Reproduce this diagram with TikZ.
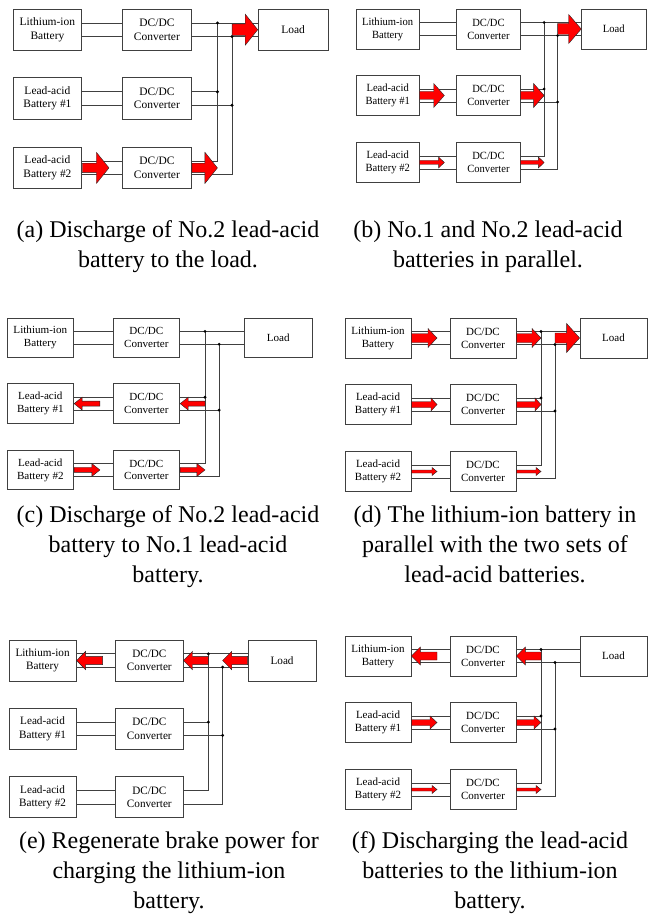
\documentclass[tikz,border=0pt]{standalone}
\usepackage{fontspec}
\setmainfont{Liberation Serif}
\usetikzlibrary{calc}

\newcommand{\drawpanel}[1]{%
  \node[unit] (#1bat1) at (33,-20)    {Lithium-ion\\Battery};
  \node[unit] (#1bat2) at (33,-86.5)  {Lead-acid\\Battery \#1};
  \node[unit] (#1bat3) at (33,-153.5) {Lead-acid\\Battery \#2};
  \node[unit, minimum width=67pt] (#1load) at (268.5,-20) {Load};
  \foreach \row/\yy in {1/-20,2/-86.5,3/-153.5}{
    \node[unit] (#1con\row) at (138,\yy) {DC/DC\\Converter};
    \coordinate (#1gap\row) at (92,\yy);
    \coordinate (#1bx\row)  at (196,\yy);
    \coordinate (#1hi\row)  at (196,\yy+6.5);
    \coordinate (#1lo\row)  at (210,\yy-6.5);
    \draw[wire] (#1bat\row.east |- #1hi\row) -- (#1con\row.west |- #1hi\row);
    \draw[wire] (#1bat\row.east |- #1lo\row) -- (#1con\row.west |- #1lo\row);
  }
  \coordinate (#1by1) at (210,-20);
  \draw[wire] (#1con1.east |- #1hi1) -- (#1load.west |- #1hi1);
  \draw[wire] (#1con1.east |- #1lo1) -- (#1load.west |- #1lo1);
  \draw[wire] (#1con2.east |- #1hi2) -- (#1hi2);
  \draw[wire] (#1con2.east |- #1lo2) -- (#1lo2);
  \draw[wire] (#1con3.east |- #1hi3) -- (#1hi3) -- (#1hi1);
  \draw[wire] (#1con3.east |- #1lo3) -- (#1lo3) -- (#1lo1);
  \foreach \dt in {hi1,lo1,hi2,lo2}
    \fill (#1\dt) circle (1.6pt);
}

% tail, tip, tail half width, head half width, head length (signed)
\newcommand{\flowarrow}[5]{%
  \draw[flow] ($(#1)+(0,#3)-(0,0)$) -- ($(#2)+(#5,#3)-(0,0)$) -- ($(#2)+(#5,#4)-(0,0)$) -- (#2)
    -- ($(#2)+(#5,-#4)-(0,0)$) -- ($(#2)+(#5,-#3)-(0,0)$) -- ($(#1)+(0,-#3)-(0,0)$) -- cycle;
}

\begin{document}
\begin{tikzpicture}[x=1pt, y=1pt,
  unit/.style={draw=black!75, line width=0.8pt, minimum width=66pt, minimum height=40pt,
    align=center, inner sep=1pt, font=\fontsize{11}{13}\selectfont},
  wire/.style={draw=black!75, line width=0.8pt},
  flow/.style={fill=red, draw=black!85, line width=0.4pt},
  caption/.style={align=center, anchor=base, font=\fontsize{24}{30}\selectfont}]
  \useasboundingbox (0,0) rectangle (648,-920);

  \begin{scope}[shift={(13,-9)}, xscale=1.043, yscale=1.035, transform shape]
    \drawpanel{a}
    \flowarrow{abat3.east}{agap3}{4.5}{15}{-12}
    \flowarrow{acon3.east}{abx3}{4.5}{15}{-12}
    \flowarrow{aby1}{aload.west}{5.5}{15}{-12}
  \end{scope}

  \begin{scope}[shift={(356,-9)}, xscale=0.96, transform shape]
    \drawpanel{b}
    \flowarrow{bbat2.east}{bgap2}{4}{12}{-11}
    \flowarrow{bcon2.east}{bbx2}{4}{12}{-11}
    \flowarrow{bbat3.east}{bgap3}{2}{5.5}{-6}
    \flowarrow{bcon3.east}{bbx3}{2}{5.5}{-6}
    \flowarrow{bby1}{bload.west}{5.5}{14.5}{-13}
  \end{scope}

  \begin{scope}[shift={(7,-318)}, xscale=1.01, yscale=0.99, transform shape]
    \drawpanel{c}
    \flowarrow{cgap2}{cbat2.east}{2.5}{6.5}{8}
    \flowarrow{cbx2}{ccon2.east}{2.5}{6.5}{8}
    \flowarrow{cbat3.east}{cgap3}{2.5}{6.5}{-8}
    \flowarrow{ccon3.east}{cbx3}{2.5}{6.5}{-8}
  \end{scope}

  \begin{scope}[shift={(345,-318)}]
    \drawpanel{d}
    \flowarrow{dbat1.east}{dgap1}{4.5}{9.5}{-9}
    \flowarrow{dcon1.east}{dbx1}{4.5}{9.5}{-9}
    \flowarrow{dby1}{dload.west}{5}{14.5}{-13}
    \flowarrow{dbat2.east}{dgap2}{3}{6.5}{-6}
    \flowarrow{dcon2.east}{dbx2}{3}{6.5}{-6}
    \flowarrow{dbat3.east}{dgap3}{1.5}{4}{-5}
    \flowarrow{dcon3.east}{dbx3}{1.5}{4}{-5}
  \end{scope}

  \begin{scope}[shift={(9,-640)}, xscale=1.017, yscale=1.025, transform shape]
    \drawpanel{e}
    \flowarrow{egap1}{ebat1.east}{4}{9}{9}
    \flowarrow{ebx1}{econ1.east}{4}{9}{9}
    \flowarrow{eload.west}{eby1}{4}{9}{9}
  \end{scope}

  \begin{scope}[shift={(345,-636)}]
    \drawpanel{f}
    \flowarrow{fgap1}{fbat1.east}{4}{9}{9}
    \flowarrow{fbx1}{fcon1.east}{4}{9}{9}
    \flowarrow{fbat2.east}{fgap2}{3}{6.5}{-7}
    \flowarrow{fcon2.east}{fbx2}{3}{6.5}{-7}
    \flowarrow{fbat3.east}{fgap3}{1.5}{4}{-5}
    \flowarrow{fcon3.east}{fbx3}{1.5}{4}{-5}
  \end{scope}

  \node[caption] (capa) at (168,-267) {(a) Discharge of No.2 lead-acid\\battery to the load.};
  \node[caption] (capb) at (488,-267) {(b) No.1 and No.2 lead-acid\\batteries in parallel.};
  \node[caption] (capc) at (168,-582) {(c) Discharge of No.2 lead-acid\\battery to No.1 lead-acid\\battery.};
  \node[caption] (capd) at (495,-582) {(d) The lithium-ion battery in\\parallel with the two sets of\\lead-acid batteries.};
  \node[caption] (cape) at (169,-908) {(e) Regenerate brake power for\\charging the lithium-ion\\battery.};
  \node[caption] (capf) at (490,-908) {(f) Discharging the lead-acid\\batteries to the lithium-ion\\battery.};
\end{tikzpicture}
\end{document}
